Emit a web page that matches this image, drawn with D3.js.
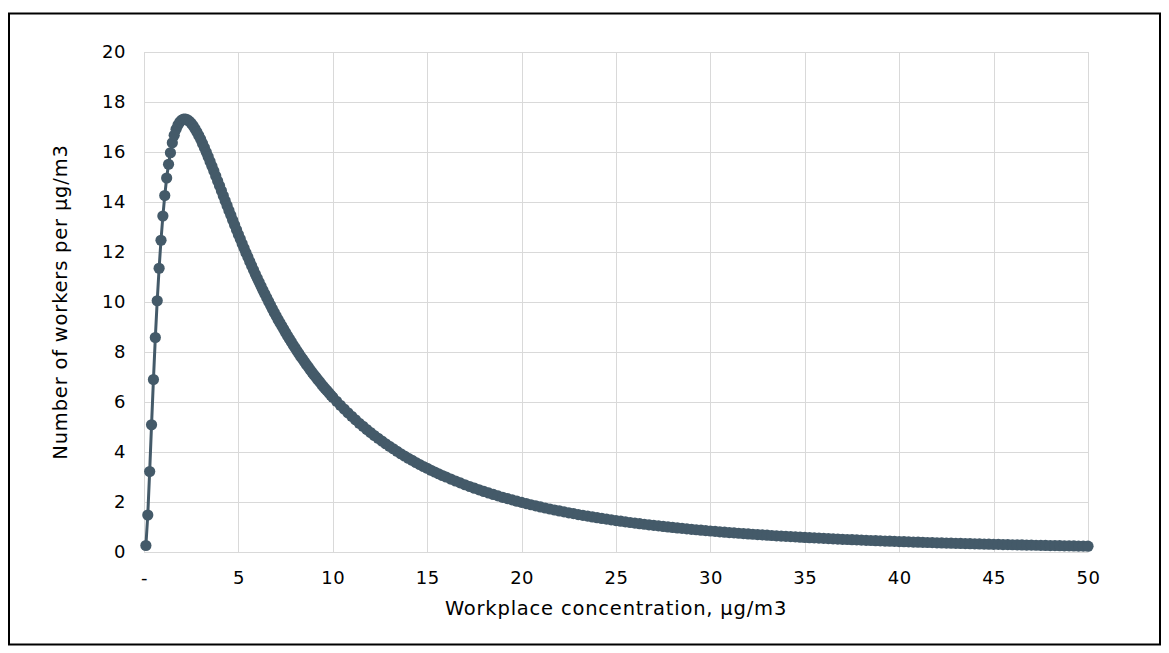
<!DOCTYPE html>
<html>
<head>
<meta charset="utf-8">
<script src="https://cdn.jsdelivr.net/npm/d3@7"></script>
<style>
  body { margin: 0; background: #fff; }
  svg { display: block; font-family: "DejaVu Sans", Verdana, sans-serif; }
</style>
</head>
<body>
<div id="chart"></div>
<script>
// Concentration (µg/m3) and workers per µg/m3
const concA = [
  0.1, 0.2, 0.3, 0.4, 0.5, 0.6, 0.7, 0.8, 0.9, 1.0,
  1.1, 1.2, 1.3, 1.4, 1.5, 1.6, 1.7, 1.8, 1.9, 2.0,
  2.1, 2.2, 2.3, 2.4, 2.5, 2.6, 2.7, 2.8, 2.9, 3.0,
  3.1, 3.2, 3.3, 3.4, 3.5, 3.6, 3.7, 3.8, 3.9, 4.0,
  4.1, 4.2, 4.3, 4.4, 4.5, 4.6, 4.7, 4.8, 4.9, 5.0,
  5.1, 5.2, 5.3, 5.4, 5.5, 5.6, 5.7, 5.8, 5.9, 6.0,
  6.1, 6.2, 6.3, 6.4, 6.5, 6.6, 6.7, 6.8, 6.9, 7.0,
  7.1, 7.2, 7.3, 7.4, 7.5, 7.6, 7.7, 7.8, 7.9, 8.0,
  8.1, 8.2, 8.3, 8.4, 8.5, 8.6, 8.7, 8.8, 8.9, 9.0,
  9.1, 9.2, 9.3, 9.4, 9.5, 9.6, 9.7, 9.8, 9.9, 10.0
]
const workersA = [
  0.26, 1.48, 3.22, 5.09, 6.90, 8.58, 10.05, 11.35, 12.47, 13.44,
  14.26, 14.96, 15.51, 15.97, 16.37, 16.67, 16.91, 17.08, 17.20, 17.28,
  17.32, 17.32, 17.29, 17.23, 17.15, 17.05, 16.93, 16.80, 16.66, 16.51,
  16.34, 16.17, 15.99, 15.81, 15.62, 15.43, 15.24, 15.04, 14.84, 14.65,
  14.45, 14.25, 14.05, 13.86, 13.66, 13.47, 13.27, 13.08, 12.89, 12.70,
  12.52, 12.33, 12.15, 11.97, 11.80, 11.62, 11.45, 11.28, 11.11, 10.95,
  10.79, 10.63, 10.47, 10.32, 10.17, 10.02, 9.87, 9.72, 9.58, 9.44,
  9.30, 9.17, 9.04, 8.91, 8.78, 8.65, 8.53, 8.41, 8.28, 8.17,
  8.05, 7.94, 7.82, 7.72, 7.61, 7.50, 7.40, 7.29, 7.19, 7.09,
  7.00, 6.90, 6.81, 6.71, 6.62, 6.53, 6.45, 6.36, 6.27, 6.19
]

const concB = [
  10.2, 10.4, 10.6, 10.8, 11.0, 11.2, 11.4, 11.6, 11.8, 12.0,
  12.2, 12.4, 12.6, 12.8, 13.0, 13.2, 13.4, 13.6, 13.8, 14.0,
  14.2, 14.4, 14.6, 14.8, 15.0, 15.2, 15.4, 15.6, 15.8, 16.0
]
const workersB = [
  6.03, 5.87, 5.72, 5.57, 5.43, 5.29, 5.15, 5.03, 4.90, 4.78,
  4.66, 4.55, 4.44, 4.33, 4.23, 4.13, 4.03, 3.93, 3.84, 3.75,
  3.67, 3.58, 3.50, 3.42, 3.35, 3.27, 3.20, 3.13, 3.06, 3.00
]

const concC = [
  16.25, 16.5, 16.75, 17, 17.25, 17.5, 17.75, 18, 18.25, 18.5, 18.75, 19,
  19.25, 19.5, 19.75, 20, 20.25, 20.5, 20.75, 21, 21.25, 21.5, 21.75, 22,
  22.25, 22.5, 22.75, 23, 23.25, 23.5, 23.75, 24, 24.25, 24.5, 24.75, 25,
  25.25, 25.5, 25.75, 26, 26.25, 26.5, 26.75, 27, 27.25, 27.5, 27.75, 28,
  28.25, 28.5, 28.75, 29, 29.25, 29.5, 29.75, 30, 30.25, 30.5, 30.75, 31,
  31.25, 31.5, 31.75, 32, 32.25, 32.5, 32.75, 33, 33.25, 33.5, 33.75, 34,
  34.25, 34.5, 34.75, 35, 35.25, 35.5, 35.75, 36, 36.25, 36.5, 36.75, 37,
  37.25, 37.5, 37.75, 38, 38.25, 38.5, 38.75, 39, 39.25, 39.5, 39.75, 40,
  40.25, 40.5, 40.75, 41, 41.25, 41.5, 41.75, 42, 42.25, 42.5, 42.75, 43,
  43.25, 43.5, 43.75, 44, 44.25, 44.5, 44.75, 45, 45.25, 45.5, 45.75, 46,
  46.25, 46.5, 46.75, 47, 47.25, 47.5, 47.75, 48, 48.25, 48.5, 48.75, 49,
  49.25, 49.5, 49.75, 50
]
const workersC = [
  2.919, 2.841, 2.765, 2.690, 2.621, 2.553, 2.487, 2.423, 2.362, 2.303, 2.245, 2.189,
  2.136, 2.084, 2.033, 1.984, 1.937, 1.891, 1.847, 1.803, 1.761, 1.721, 1.681, 1.642,
  1.605, 1.569, 1.534, 1.499, 1.466, 1.434, 1.403, 1.372, 1.343, 1.314, 1.286, 1.258,
  1.232, 1.206, 1.181, 1.156, 1.133, 1.110, 1.087, 1.065, 1.044, 1.023, 1.002, 0.982,
  0.963, 0.944, 0.925, 0.907, 0.890, 0.873, 0.856, 0.840, 0.824, 0.808, 0.793, 0.778,
  0.764, 0.750, 0.736, 0.723, 0.710, 0.697, 0.684, 0.672, 0.660, 0.649, 0.637, 0.626,
  0.615, 0.604, 0.593, 0.583, 0.573, 0.564, 0.554, 0.545, 0.536, 0.527, 0.518, 0.509,
  0.501, 0.492, 0.484, 0.476, 0.468, 0.461, 0.453, 0.446, 0.439, 0.432, 0.425, 0.418,
  0.412, 0.405, 0.399, 0.393, 0.387, 0.381, 0.375, 0.369, 0.363, 0.358, 0.352, 0.347,
  0.342, 0.337, 0.332, 0.327, 0.322, 0.317, 0.313, 0.308, 0.304, 0.299, 0.295, 0.291,
  0.287, 0.282, 0.278, 0.274, 0.270, 0.266, 0.263, 0.259, 0.255, 0.252, 0.248, 0.245,
  0.242, 0.238, 0.235, 0.232
]

const xTicks = [0, 5, 10, 15, 20, 25, 30, 35, 40, 45, 50]
const xTickLabels = ["-", "5", "10", "15", "20", "25", "30", "35", "40", "45", "50"]
const yTicks = [0, 2, 4, 6, 8, 10, 12, 14, 16, 18, 20]

const xTitle = "Workplace concentration, µg/m3"
const yTitle = "Number of workers per µg/m3"

const width = 1169
const height = 653
const margin = { top: 52, right: 81, bottom: 101, left: 144 }
const color = "#445a69"
const gridColor = "#d9d9d9"
const fontSize = "19.5px"
const spacing = "0.8px"

const points = [
  ...concA.map((x, i) => ({ x, y: workersA[i] })),
  ...concB.map((x, i) => ({ x, y: workersB[i] })),
  ...concC.map((x, i) => ({ x, y: workersC[i] }))
]

const svg = d3.select("#chart")
  .append("svg")
  .attr("width", width)
  .attr("height", height)
  .attr("viewBox", [0, 0, width, height])

svg.append("rect")
  .attr("width", width)
  .attr("height", height)
  .attr("fill", "#fff")

// Outer frame
svg.append("rect")
  .attr("x", 9)
  .attr("y", 13.5)
  .attr("width", 1151)
  .attr("height", 631)
  .attr("fill", "none")
  .attr("stroke", "#000")
  .attr("stroke-width", 2)

const x = d3.scaleLinear()
  .domain([0, 50])
  .range([margin.left, width - margin.right])

const y = d3.scaleLinear()
  .domain([0, 20])
  .range([height - margin.bottom, margin.top])

// Grid
svg.append("g")
  .selectAll("line")
  .data(yTicks)
  .join("line")
  .attr("x1", x(0))
  .attr("x2", x(50))
  .attr("y1", d => Math.round(y(d)) + 0.5)
  .attr("y2", d => Math.round(y(d)) + 0.5)
  .attr("stroke", gridColor)
  .attr("stroke-width", 1)

svg.append("g")
  .selectAll("line")
  .data(xTicks)
  .join("line")
  .attr("x1", d => Math.round(x(d)) + 0.5)
  .attr("x2", d => Math.round(x(d)) + 0.5)
  .attr("y1", y(20))
  .attr("y2", y(0))
  .attr("stroke", gridColor)
  .attr("stroke-width", 1)

// Axes (labels only, Excel style)
const xAxis = svg.append("g")
  .attr("transform", `translate(0,${y(0)})`)
  .call(d3.axisBottom(x).tickValues(xTicks).tickFormat((d, i) => xTickLabels[i]).tickSize(0).tickPadding(19))
xAxis.select(".domain").attr("stroke", gridColor)

const yAxis = svg.append("g")
  .attr("transform", `translate(${x(0)},0)`)
  .call(d3.axisLeft(y).tickValues(yTicks).tickSize(0).tickPadding(18))
yAxis.select(".domain").remove()

svg.selectAll(".tick text")
  .attr("font-family", "DejaVu Sans, Verdana, sans-serif")
  .attr("font-size", "18px")
  .attr("letter-spacing", "0.5px")
  .attr("fill", "#000")

// Line + markers
const line = d3.line()
  .x(d => x(d.x))
  .y(d => y(d.y))

svg.append("path")
  .datum(points)
  .attr("fill", "none")
  .attr("stroke", color)
  .attr("stroke-width", 3)
  .attr("d", line)

svg.append("g")
  .selectAll("circle")
  .data(points)
  .join("circle")
  .attr("cx", d => x(d.x))
  .attr("cy", d => y(d.y))
  .attr("r", 5.6)
  .attr("fill", color)

// Titles
svg.append("text")
  .attr("x", (x(0) + x(50)) / 2)
  .attr("y", 615)
  .attr("text-anchor", "middle")
  .attr("font-size", fontSize)
  .attr("letter-spacing", spacing)
  .attr("fill", "#000")
  .text(xTitle)

svg.append("text")
  .attr("transform", `translate(67,${(y(0) + y(20)) / 2}) rotate(-90)`)
  .attr("text-anchor", "middle")
  .attr("font-size", fontSize)
  .attr("letter-spacing", spacing)
  .attr("fill", "#000")
  .text(yTitle)
</script>
</body>
</html>
